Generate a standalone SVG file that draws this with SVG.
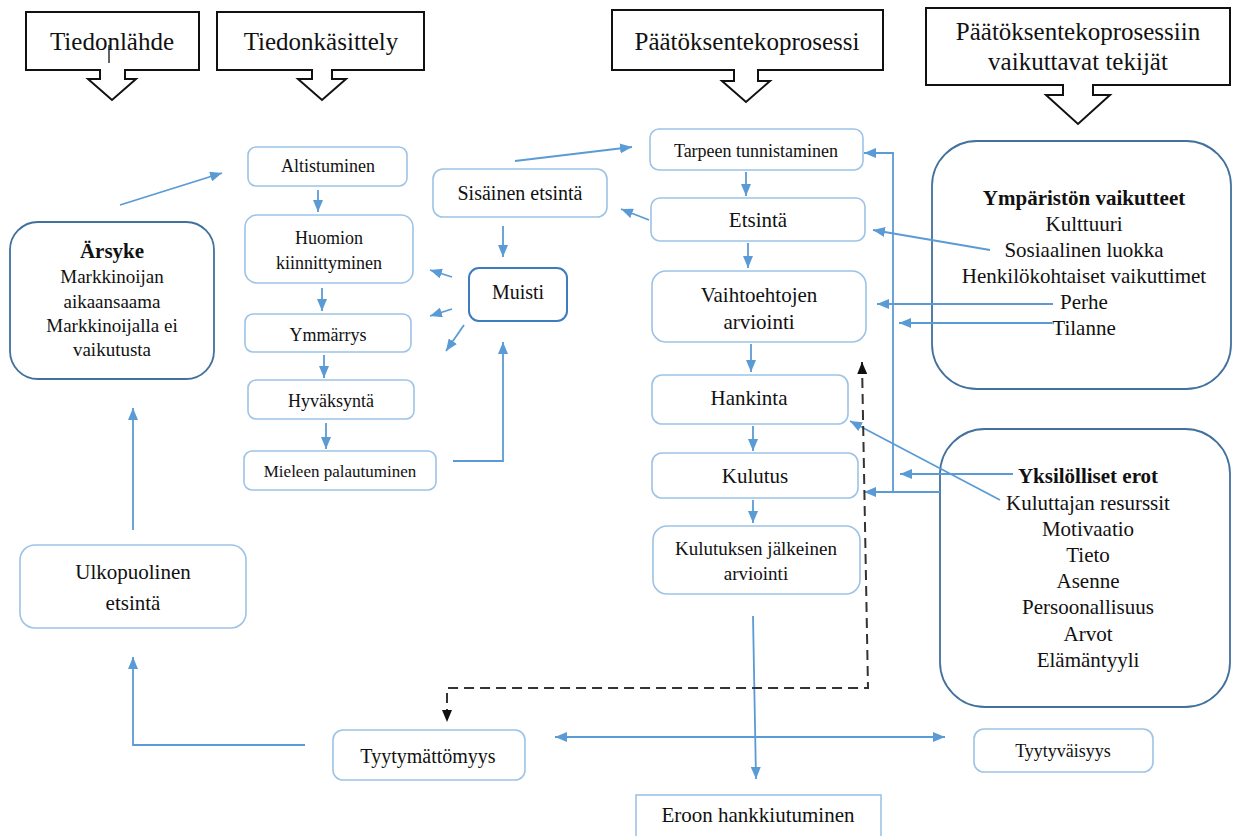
<svg xmlns="http://www.w3.org/2000/svg" width="1233" height="836" viewBox="0 0 1233 836" font-family="'Liberation Serif', 'DejaVu Serif', 'Times New Roman', serif">
<style>
text{font-family:'Liberation Serif','DejaVu Serif','Times New Roman',serif;fill:#111;text-anchor:middle}
.hdr{fill:#fff;stroke:#111;stroke-width:2}
.h{font-size:25px}
.n{fill:#fff;stroke:#9DC3E6;stroke-width:1.6}
.d{fill:#fff;stroke:#41719C;stroke-width:1.8}
.m{fill:#fff;stroke:#3E7CC0;stroke-width:2}
.c{fill:none;stroke:#5B9BD5;stroke-width:1.8}
.dash{fill:none;stroke:#333;stroke-width:2;stroke-dasharray:10,6}
.s18{font-size:18px}.s17{font-size:17px}.s19{font-size:19px}.s20{font-size:20px}.s21{font-size:21px}
.b{font-weight:bold}
</style>
<defs>
<marker id="ah" markerUnits="userSpaceOnUse" viewBox="0 0 12 10" refX="12" refY="5" markerWidth="12" markerHeight="10" orient="auto-start-reverse"><path d="M0,0 L12,5 L0,10 Z" fill="#5B9BD5"/></marker>
<marker id="ak" markerUnits="userSpaceOnUse" viewBox="0 0 12 10" refX="12" refY="5" markerWidth="12" markerHeight="10" orient="auto-start-reverse"><path d="M0,0 L12,5 L0,10 Z" fill="#111"/></marker>
</defs>

<g id="hdr-tiedonlahde">
<path class="hdr" d="M26,12 H199 V70 H125 V79 H136 L112,100 L88,79 H100 V70 H26 Z"/>
<text class="h" x="112" y="50">Tiedonlähde</text>
<line x1="109" y1="45" x2="109" y2="63" stroke="#111" stroke-width="1.3"/>
</g>
<g id="hdr-tiedonkasittely">
<path class="hdr" d="M217,12 H424 V70 H332 V79 H346 L322,100 L298,79 H312 V70 H217 Z"/>
<text class="h" x="321" y="50">Tiedonkäsittely</text>
</g>
<g id="hdr-paatos">
<path class="hdr" d="M612,10 H883 V70 H758 V81 H770 L746,102 L722,81 H734 V70 H612 Z"/>
<text class="h" x="747" y="50">Päätöksentekoprosessi</text>
</g>
<g id="hdr-tekijat">
<path class="hdr" d="M926,8 H1230 V85 H1093 V95 H1110 L1078,124 L1046,95 H1063 V85 H926 Z"/>
<text class="h" x="1078" y="40">Päätöksentekoprosessiin</text>
<text class="h" x="1078" y="70">vaikuttavat tekijät</text>
</g>

<g id="arsyke">
<rect class="d" x="10" y="222" width="204" height="157" rx="28"/>
<text class="s21 b" x="112" y="258">Ärsyke</text>
<text class="s19" x="112" y="283">Markkinoijan</text>
<text class="s19" x="112" y="308">aikaansaama</text>
<text class="s19" x="112" y="332">Markkinoijalla ei</text>
<text class="s19" x="112" y="356">vaikutusta</text>
</g>
<g id="ulkopuolinen">
<rect class="n" x="20" y="545" width="226" height="83" rx="15"/>
<text class="s21" x="133" y="579">Ulkopuolinen</text>
<text class="s21" x="133" y="610">etsintä</text>
</g>
<g id="altistuminen">
<rect class="n" x="248" y="147" width="159" height="39" rx="8"/>
<text class="s18" x="328" y="172">Altistuminen</text>
</g>
<g id="huomion">
<rect class="n" x="245" y="215" width="168" height="68" rx="12"/>
<text class="s18" x="329" y="244">Huomion</text>
<text class="s18" x="329" y="269">kiinnittyminen</text>
</g>
<g id="ymmarrys">
<rect class="n" x="245" y="314" width="166" height="38" rx="8"/>
<text class="s18" x="328" y="341">Ymmärrys</text>
</g>
<g id="hyvaksynta">
<rect class="n" x="248" y="380" width="166" height="39" rx="8"/>
<text class="s18" x="331" y="407">Hyväksyntä</text>
</g>
<g id="mieleen">
<rect class="n" x="244" y="451" width="192" height="39" rx="8"/>
<text class="s17" x="340" y="477">Mieleen palautuminen</text>
</g>
<g id="sisainen">
<rect class="n" x="433" y="169" width="174" height="48" rx="10"/>
<text class="s20" x="520" y="200">Sisäinen etsintä</text>
</g>
<g id="muisti">
<rect class="m" x="469" y="268" width="98" height="53" rx="10"/>
<text class="s20" x="518" y="299">Muisti</text>
</g>
<g id="tarpeen">
<rect class="n" x="650" y="129" width="213" height="41" rx="9"/>
<text class="s18" x="756" y="157">Tarpeen tunnistaminen</text>
</g>
<g id="etsinta">
<rect class="n" x="651" y="198" width="214" height="43" rx="9"/>
<text class="s21" x="758" y="227">Etsintä</text>
</g>
<g id="vaihtoehtojen">
<rect class="n" x="652" y="271" width="214" height="71" rx="14"/>
<text class="s21" x="759" y="302">Vaihtoehtojen</text>
<text class="s21" x="759" y="329">arviointi</text>
</g>
<g id="hankinta">
<rect class="n" x="652" y="375" width="196" height="49" rx="10"/>
<text class="s21" x="749" y="405">Hankinta</text>
</g>
<g id="kulutus">
<rect class="n" x="652" y="453" width="206" height="45" rx="10"/>
<text class="s21" x="755" y="483">Kulutus</text>
</g>
<g id="jalkeinen">
<rect class="n" x="653" y="526" width="207" height="68" rx="14"/>
<text class="s19" x="756" y="555">Kulutuksen jälkeinen</text>
<text class="s19" x="756" y="580">arviointi</text>
</g>
<g id="eroon">
<rect class="n" x="636" y="795" width="245" height="60"/>
<text class="s21" x="758" y="822">Eroon hankkiutuminen</text>
</g>
<g id="tyytymattomyys">
<rect class="n" x="333" y="730" width="192" height="50" rx="10"/>
<text class="s20" x="428" y="763">Tyytymättömyys</text>
</g>
<g id="tyytyvaisyys">
<rect class="n" x="974" y="729" width="179" height="43" rx="10"/>
<text class="s18" x="1063" y="757">Tyytyväisyys</text>
</g>
<g id="ymparisto">
<rect class="d" x="932" y="141" width="299" height="248" rx="45"/>
<text class="s21 b" x="1084" y="205">Ympäristön vaikutteet</text>
<text class="s21" x="1084" y="231">Kulttuuri</text>
<text class="s21" x="1084" y="257">Sosiaalinen luokka</text>
<text class="s21" x="1084" y="283">Henkilökohtaiset vaikuttimet</text>
<text class="s21" x="1084" y="309">Perhe</text>
<text class="s21" x="1084" y="335">Tilanne</text>
</g>
<g id="yksilolliset">
<rect class="d" x="940" y="429" width="290" height="278" rx="45"/>
<text class="s21 b" x="1088" y="483">Yksilölliset erot</text>
<text class="s21" x="1088" y="510">Kuluttajan resurssit</text>
<text class="s21" x="1088" y="536">Motivaatio</text>
<text class="s21" x="1088" y="562">Tieto</text>
<text class="s21" x="1088" y="588">Asenne</text>
<text class="s21" x="1088" y="614">Persoonallisuus</text>
<text class="s21" x="1088" y="641">Arvot</text>
<text class="s21" x="1088" y="667">Elämäntyyli</text>
</g>

<g id="connectors">
<line class="c" x1="120" y1="205" x2="222" y2="173" marker-end="url(#ah)"/>
<line class="c" x1="318" y1="190" x2="318" y2="212" marker-end="url(#ah)"/>
<line class="c" x1="322" y1="288" x2="322" y2="311" marker-end="url(#ah)"/>
<line class="c" x1="324" y1="355" x2="324" y2="378" marker-end="url(#ah)"/>
<line class="c" x1="326" y1="423" x2="326" y2="449" marker-end="url(#ah)"/>
<polyline class="c" points="453,461 503,461 503,342" marker-end="url(#ah)"/>
<line class="c" x1="452" y1="277" x2="430" y2="270" marker-end="url(#ah)"/>
<line class="c" x1="452" y1="309" x2="430" y2="316" marker-end="url(#ah)"/>
<line class="c" x1="464" y1="325" x2="446" y2="351" marker-end="url(#ah)"/>
<line class="c" x1="503" y1="226" x2="503" y2="257" marker-end="url(#ah)"/>
<line class="c" x1="515" y1="161" x2="632" y2="147" marker-end="url(#ah)"/>
<line class="c" x1="649" y1="220" x2="621" y2="209" marker-end="url(#ah)"/>
<line class="c" x1="746" y1="172" x2="746" y2="196" marker-end="url(#ah)"/>
<line class="c" x1="748" y1="243" x2="748" y2="268" marker-end="url(#ah)"/>
<line class="c" x1="751" y1="344" x2="751" y2="372" marker-end="url(#ah)"/>
<line class="c" x1="753" y1="426" x2="753" y2="451" marker-end="url(#ah)"/>
<line class="c" x1="753" y1="500" x2="753" y2="523" marker-end="url(#ah)"/>
<line class="c" x1="753" y1="616" x2="756" y2="779" marker-end="url(#ah)"/>
<line class="c" x1="555" y1="737" x2="945" y2="737" marker-start="url(#ah)" marker-end="url(#ah)"/>
<polyline class="c" points="305,745 133,745 133,657" marker-end="url(#ah)"/>
<line class="c" x1="133" y1="530" x2="133" y2="408" marker-end="url(#ah)"/>
<line class="c" x1="990" y1="250" x2="873" y2="230" marker-end="url(#ah)"/>
<line class="c" x1="1053" y1="304" x2="877" y2="304" marker-end="url(#ah)"/>
<line class="c" x1="1052" y1="323" x2="899" y2="323" marker-end="url(#ah)"/>
<line class="c" x1="1013" y1="474" x2="900" y2="474" marker-end="url(#ah)"/>
<line class="c" x1="1000" y1="500" x2="850" y2="421" marker-end="url(#ah)"/>
<line class="c" x1="940" y1="492" x2="864" y2="492" marker-end="url(#ah)"/>
<polyline class="c" points="893,492 893,153 864,153" marker-end="url(#ah)"/>
<polyline class="dash" points="862,362 868,688 447,688 447,722" marker-start="url(#ak)" marker-end="url(#ak)"/>
</g>
</svg>
